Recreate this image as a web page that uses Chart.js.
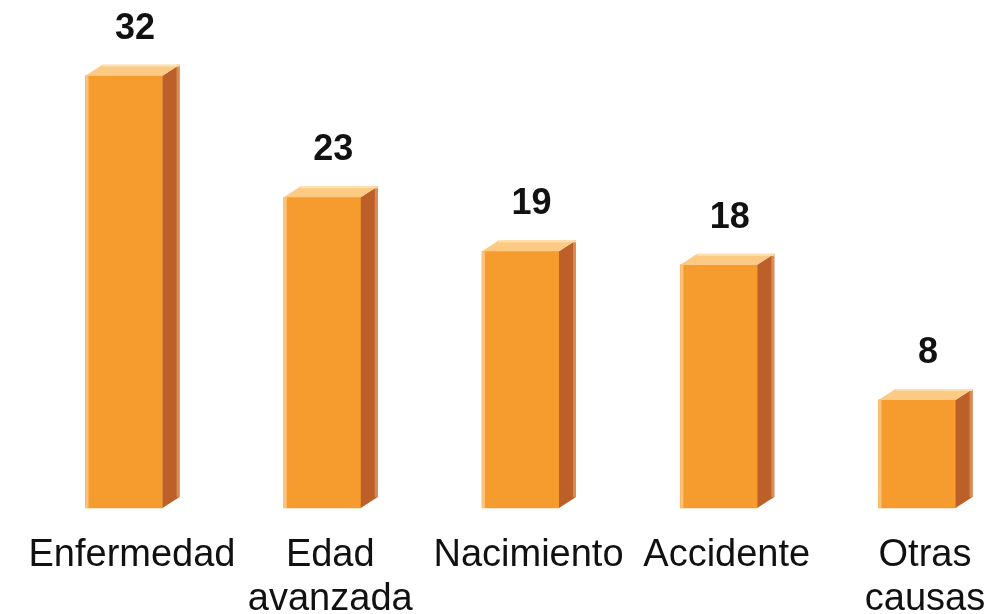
<!DOCTYPE html>
<html><head><meta charset="utf-8">
<script src="https://cdn.jsdelivr.net/npm/chart.js@4/dist/chart.umd.min.js"></script>
<style>html,body{margin:0;padding:0;background:#fff;}canvas{display:block;}</style>
</head><body>
<canvas id="c" width="988" height="614"></canvas>
<script>
const categories = [["Enfermedad"], ["Edad", "avanzada"], ["Nacimiento"], ["Accidente"], ["Otras", "causas"]];
const values = [32, 23, 19, 18, 8];
const valueLabels = ["32", "23", "19", "18", "8"];

const FRONT = '#F69C2E', SIDE = '#BD5F28', TOP = '#FDCA84', EDGE = '#FCC27A', SIDE_EDGE = '#D88B52';
const DX = 17, DY = 11;

const bar3d = {
  id: 'bar3d',
  afterDatasetsDraw(chart) {
    const ctx = chart.ctx;
    const meta = chart.getDatasetMeta(0);
    ctx.save();
    meta.data.forEach(b => {
      const x1 = b.x - b.width / 2, x2 = b.x + b.width / 2, t = b.y, bot = b.base;
      // side face
      ctx.fillStyle = SIDE;
      ctx.beginPath();
      ctx.moveTo(x2, t); ctx.lineTo(x2 + DX, t - DY); ctx.lineTo(x2 + DX, bot - DY); ctx.lineTo(x2, bot);
      ctx.closePath(); ctx.fill();
      ctx.fillStyle = SIDE_EDGE;
      ctx.fillRect(x2 + DX - 3, t - DY, 3, bot - t);
      // top face
      ctx.fillStyle = TOP;
      ctx.beginPath();
      ctx.moveTo(x1, t); ctx.lineTo(x1 + DX, t - DY); ctx.lineTo(x2 + DX, t - DY); ctx.lineTo(x2, t);
      ctx.closePath(); ctx.fill();
      ctx.fillStyle = '#FEDFB0';
      ctx.fillRect(x1 + DX, t - DY, b.width, 2);
      // left highlight of front
      ctx.fillStyle = EDGE;
      ctx.fillRect(x1, t, 3, bot - t);
    });
    ctx.restore();
  },
  afterDraw(chart) {
    const ctx = chart.ctx;
    const meta = chart.getDatasetMeta(0);
    ctx.save();
    ctx.textAlign = 'center';
    ctx.textBaseline = 'alphabetic';
    ctx.fillStyle = '#111';
    meta.data.forEach((b, i) => {
      ctx.font = 'bold 36px "Liberation Sans", Arial, sans-serif';
      ctx.fillText(valueLabels[i], b.x + 11, b.y - 37);
      ctx.font = '38px "Liberation Sans", Arial, sans-serif';
      const lines = categories[i];
      lines.forEach((ln, j) => ctx.fillText(ln, b.x + 8, 566 + j * 44));
    });
    ctx.restore();
  }
};

new Chart(document.getElementById('c'), {
  type: 'bar',
  data: {
    labels: categories,
    datasets: [{ data: values, backgroundColor: FRONT, borderWidth: 0, barThickness: 77, clip: false }]
  },
  options: {
    responsive: false,
    animation: false,
    devicePixelRatio: 1,
    layout: { padding: { left: 124, right: 71, top: 0, bottom: 106 } },
    scales: {
      x: { display: false, offset: false },
      y: { display: false, min: 0, max: 37.6 }
    },
    plugins: { legend: { display: false }, tooltip: { enabled: false } }
  },
  plugins: [bar3d]
});
</script>
</body></html>
